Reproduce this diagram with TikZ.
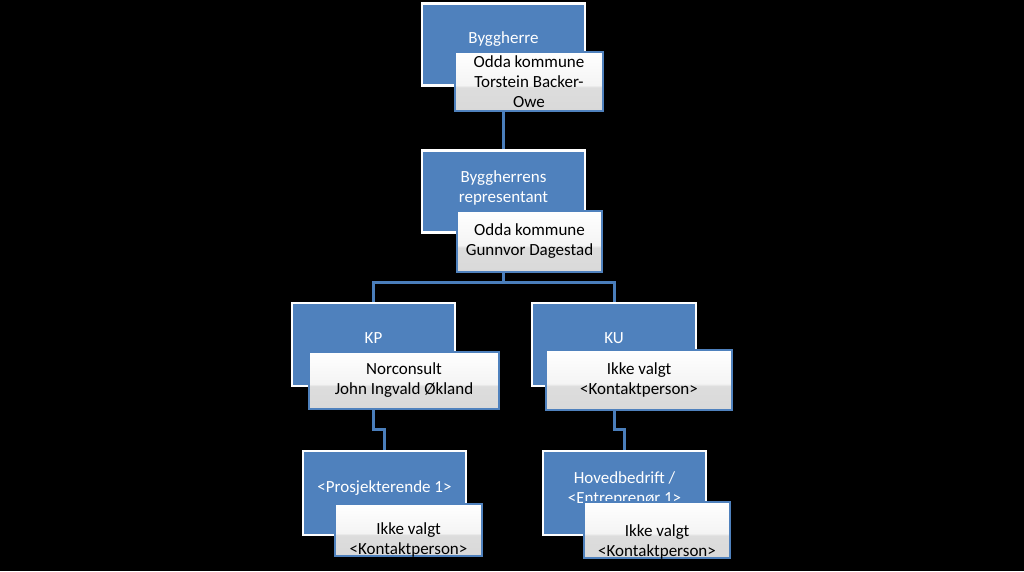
\documentclass[tikz,border=0pt]{standalone}
\usepackage{fontspec}
\setmainfont{Carlito}
\usepackage{tikz}
\definecolor{orgblue}{HTML}{4F81BD}
\definecolor{lineblue}{HTML}{4A7EBB}
\definecolor{glosstop}{HTML}{F4F4F4}
\definecolor{glossbot}{HTML}{D9D9D9}
\pgfdeclareverticalshading{gloss}{100bp}{color(0bp)=(glossbot); color(25bp)=(glossbot); color(45bp)=(glossbot!90!white); color(47bp)=(glosstop); color(75bp)=(white); color(100bp)=(white)}

\begin{document}
\begin{tikzpicture}[x=1pt,y=-1pt,
  font=\fontsize{17}{20}\selectfont,
  role/.style={draw=white,line width=2.5pt,fill=orgblue,minimum width=163,minimum height=82},
  rtext/.style={text=white,align=center},
  who/.style={draw=orgblue,line width=2pt,shading=gloss,align=center,text=black},
  ctext/.style={align=center,text=black},
  link/.style={draw=lineblue,line width=3pt}]
\useasboundingbox (0,0) rectangle (1024,571);
\fill[black] (0,0) rectangle (1024,571);
% roles (blue)
\node[role] (bh) at (503.5,44.5) {};
\node[role] (rep) at (503.5,191.5) {};
\node[role,minimum height=83] (kp) at (373.5,344.5) {};
\node[role,minimum height=83,minimum width=164] (ku) at (614,344.5) {};
\node[role,minimum height=84] (pro) at (384.5,493) {};
\node[role,minimum height=84] (hov) at (624.5,493) {};
\node[rtext] (bhT) at (503.5,39) {Byggherre};
\node[rtext] (repT) at (503.5,187.5) {Byggherrens\\representant};
\node[rtext] (kpT) at (373.5,338) {KP};
\node[rtext] (kuT) at (614,338) {KU};
\node[rtext] (proT) at (384.5,488) {<Prosjekterende 1>};
\node[rtext] (hovT) at (624.5,489) {Hovedbedrift /\\<Entreprenør 1>};
% connectors
\coordinate (split) at (503.5,282);
\draw[link] (bh.south) -- (rep.north);
\draw[link] (rep.south) -- (split);
\draw[link] (kp.north) |- (split) -| (ku.north);
\draw[link] (kp.south) -- ++(0,42) -| (pro.north);
\draw[link] (ku.south) -- ++(0,42) -| (hov.north);
% contacts (grey)
\node[who,minimum width=148,minimum height=59] (bhC) at (529,81.5) {Odda kommune\\Torstein Backer-\\Owe};
\node[who,minimum width=145,minimum height=61] (repC) at (529.5,241.5) {Odda kommune\\Gunnvor Dagestad};
\node[who,minimum width=190,minimum height=57] (kpC) at (404,380.5) {Norconsult\\John Ingvald Økland};
\node[who,minimum width=186,minimum height=60] (kuC) at (639,380) {Ikke valgt\\<Kontaktperson>};
\node[who,minimum width=147,minimum height=52] (proC) at (408.5,530) {};
\node[who,minimum width=146,minimum height=56] (hovC) at (657,530) {};
\node[ctext] (proCT) at ([yshift=-10pt]proC.center) {Ikke valgt\\<Kontaktperson>};
\node[ctext] (hovCT) at ([yshift=-12pt]hovC.center) {Ikke valgt\\<Kontaktperson>};
\end{tikzpicture}
\end{document}
